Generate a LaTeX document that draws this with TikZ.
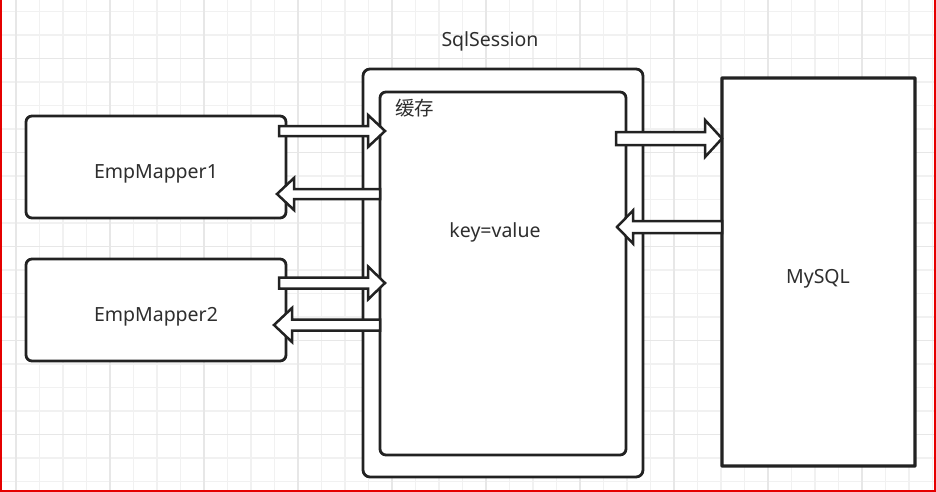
\documentclass[tikz,border=0pt]{standalone}
\usepackage{fontspec}
\setmainfont{Noto Sans}
\newfontfamily\cjk{Noto Sans CJK SC}
\usetikzlibrary{calc}
\definecolor{ink}{HTML}{222222}
\definecolor{txt}{HTML}{2E2E2E}
\definecolor{gridminor}{HTML}{F1F1F1}
\definecolor{gridmajor}{HTML}{E7E7E7}
\tikzset{
  boxline/.style={draw=ink, line width=2.8pt, fill=white},
  barrow/.style={draw=ink, line width=2.5pt, fill=white, line join=miter},
  lbl/.style={text=txt, font=\fontsize{19.5}{22}\selectfont, inner sep=0pt},
}
\newcommand{\blockarrow}[5]{%
  \draw[barrow] let \p1=#1, \p2=#2, \n1={sign(\x2-\x1)} in
    (\x1,\y1+#3) -- (\x2-\n1*#5,\y1+#3) -- (\x2-\n1*#5,\y1+#4) -- (\x2,\y1)
    -- (\x2-\n1*#5,\y1-#4) -- (\x2-\n1*#5,\y1-#3) -- (\x1,\y1-#3) -- cycle;}
\begin{document}
\begin{tikzpicture}[x=1pt,y=-1pt]
\useasboundingbox (0,0) rectangle (936,492);
\fill[white] (0,0) rectangle (936,492);
% grid
\foreach \i in {0,...,39} {
  \pgfmathsetmacro{\gx}{16+23.5*\i}
  \draw[gridminor, line width=1.2pt] (\gx,0) -- (\gx,492);
}
\foreach \j in {-1,...,20} {
  \pgfmathsetmacro{\gy}{35+23.5*\j}
  \draw[gridminor, line width=1.2pt] (0,\gy) -- (936,\gy);
}
\foreach \i in {0,...,9} {
  \pgfmathsetmacro{\gx}{16+94*\i}
  \draw[gridmajor, line width=1.2pt] (\gx,0) -- (\gx,492);
}
\foreach \j in {0,...,5} {
  \pgfmathsetmacro{\gy}{58.5+94*\j}
  \draw[gridmajor, line width=1.2pt] (0,\gy) -- (936,\gy);
}
% boxes
\draw[boxline, rounded corners=6pt] (26,116) rectangle (286,218);
\node[lbl] (e1) at (156,174) {EmpMapper1};
\draw[boxline, rounded corners=6pt] (26,259) rectangle (286,361);
\node[lbl] (e2) at (156,317) {EmpMapper2};
\draw[boxline, rounded corners=7pt] (363,69) rectangle (643,477);
\node[lbl] (ss) at (490,41) {SqlSession};
\draw[boxline, rounded corners=6pt] (380,92) rectangle (626,455);
\node[lbl, anchor=west] (cache) at (395,108) {\cjk 缓存};
\node[lbl] (kv) at (495,232) {key=value};
\draw[boxline, line width=3.3pt, rounded corners=0.5pt] (722,78) rectangle (915,466);
\node[lbl] (db) at (818,279) {MySQL};
% connector end points
\coordinate (a1s) at (279,131); \coordinate (a1t) at (385,131);
\coordinate (a2s) at (380,194); \coordinate (a2t) at (277,194);
\coordinate (a3s) at (279,283); \coordinate (a3t) at (385,283);
\coordinate (a4s) at (380,325); \coordinate (a4t) at (274,325);
\coordinate (a5s) at (616,138.5); \coordinate (a5t) at (722,138.5);
\coordinate (a6s) at (722,227); \coordinate (a6t) at (617,227);
\blockarrow{(a1s)}{(a1t)}{5pt}{16pt}{17pt}
\blockarrow{(a2s)}{(a2t)}{5pt}{16pt}{17pt}
\blockarrow{(a3s)}{(a3t)}{5.5pt}{16.5pt}{17pt}
\blockarrow{(a4s)}{(a4t)}{5.5pt}{17pt}{18pt}
\blockarrow{(a5s)}{(a5t)}{6.5pt}{18.5pt}{17pt}
\blockarrow{(a6s)}{(a6t)}{6pt}{16.5pt}{16pt}
% frame
\draw[red!90!black, line width=2pt] (1,0) -- (1,491) -- (935,491) -- (935,0);
\end{tikzpicture}
\end{document}
